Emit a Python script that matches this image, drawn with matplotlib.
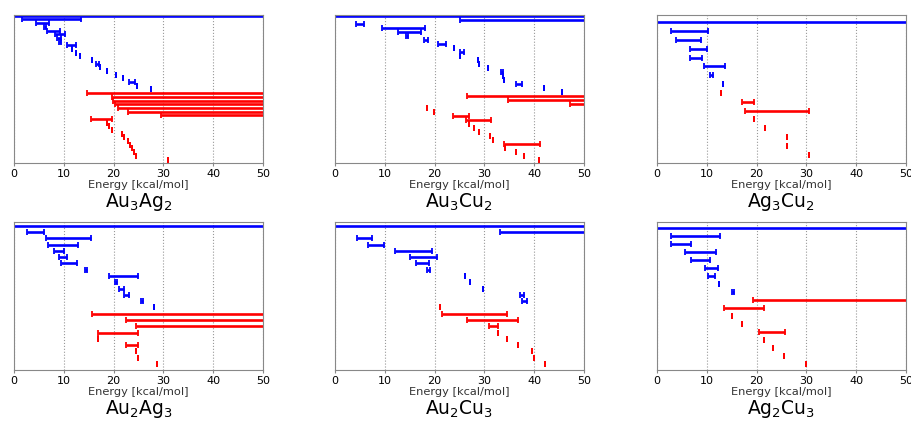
import matplotlib
matplotlib.use("Agg")
import matplotlib.pyplot as plt

# (low, high) energy windows in kcal/mol, listed top to bottom
au3ag2_blue = [(-2, 55), (1.7, 13.4), (4.5, 7.1), (6.0, 6.4), (6.7, 9.2), (8.2, 10.2),
               (8.7, 9.5), (9.0, 9.4), (10.6, 12.4), (11.6, 11.6), (12.4, 12.4),
               (13.3, 13.3), (15.6, 15.6), (16.5, 17.1), (17.3, 17.3), (18.6, 18.6),
               (20.5, 20.5), (21.8, 21.8), (23.0, 24.3), (24.6, 24.6), (27.6, 27.6)]
au3ag2_red = [(14.7, 55), (19.7, 55), (19.8, 55), (20.3, 55), (20.9, 55), (22.8, 55),
              (29.5, 55), (15.4, 19.7), (18.7, 18.7), (19.1, 19.1), (19.7, 19.7),
              (21.6, 21.6), (22.1, 22.1), (22.8, 22.8), (23.3, 23.3), (23.6, 23.6),
              (24.0, 24.0), (24.4, 24.4), (31.0, 31.0)]

au3cu2_blue = [(-2, 55), (25.2, 55), (4.2, 5.8), (9.4, 18.1), (12.6, 17.2), (14.2, 14.7),
               (17.9, 18.7), (20.7, 22.3), (23.9, 23.9), (25.1, 26.0), (25.1, 25.1),
               (28.7, 28.7), (28.9, 28.9), (30.7, 30.7), (33.3, 33.7), (33.8, 33.8),
               (33.9, 33.9), (36.3, 37.5), (42.0, 42.0), (45.6, 45.6)]
au3cu2_red = [(26.6, 55), (34.7, 55), (47.2, 55), (18.4, 18.4), (19.9, 19.9), (23.8, 27.0),
              (26.4, 31.3), (26.9, 26.9), (27.9, 27.9), (28.9, 28.9), (31.1, 31.1),
              (31.8, 31.8), (33.9, 41.2), (34.2, 34.2), (36.3, 36.3), (38.0, 38.0),
              (41.0, 41.0)]

ag3cu2_blue = [(-2, 55), (2.8, 10.2), (3.8, 8.8), (6.6, 10.0), (6.7, 9.0), (9.5, 13.6),
               (10.6, 11.2), (13.2, 13.2)]
ag3cu2_red = [(12.9, 12.9), (17.1, 19.4), (17.6, 30.6), (19.4, 19.4), (21.7, 21.7),
              (26.1, 26.1), (26.2, 26.2), (30.6, 30.6)]

au2ag3_blue = [(-2, 55), (2.7, 6.0), (6.4, 15.4), (6.8, 12.9), (8.0, 10.1), (9.1, 10.6),
               (9.5, 12.7), (14.3, 14.6), (19.1, 24.8), (20.3, 20.7), (21.1, 22.1),
               (22.1, 23.1), (25.4, 25.8), (28.2, 28.2)]
au2ag3_red = [(15.7, 55), (22.4, 55), (24.4, 55), (16.8, 24.9), (16.8, 16.8), (22.4, 24.9),
              (24.5, 24.5), (24.9, 24.9), (28.8, 28.8)]

au2cu3_blue = [(-2, 55), (33.1, 55), (4.5, 7.5), (6.6, 9.8), (12.1, 19.5), (15.0, 20.5),
               (16.3, 18.9), (18.4, 19.0), (26.2, 26.2), (27.2, 27.2), (29.7, 29.7),
               (37.1, 38.0), (37.6, 38.6)]
au2cu3_red = [(21.0, 21.0), (21.4, 34.6), (26.5, 36.7), (30.9, 32.7), (32.7, 32.7),
              (34.6, 34.6), (36.7, 36.7), (39.6, 39.6), (39.9, 39.9), (42.1, 42.1)]

ag2cu3_blue = [(-2, 55), (2.8, 12.6), (2.8, 6.9), (5.7, 11.9), (6.9, 10.6), (9.7, 12.2),
               (10.2, 11.6), (12.4, 12.4), (15.1, 15.5)]
ag2cu3_red = [(19.3, 55), (13.4, 21.4), (15.1, 15.1), (17.1, 17.1), (20.5, 25.8),
              (21.5, 21.5), (23.3, 23.3), (25.6, 25.6), (30.0, 30.0)]

titles = ["Au$_3$Ag$_2$", "Au$_3$Cu$_2$", "Ag$_3$Cu$_2$",
          "Au$_2$Ag$_3$", "Au$_2$Cu$_3$", "Ag$_2$Cu$_3$"]
blues = [au3ag2_blue, au3cu2_blue, ag3cu2_blue, au2ag3_blue, au2cu3_blue, ag2cu3_blue]
reds = [au3ag2_red, au3cu2_red, ag3cu2_red, au2ag3_red, au2cu3_red, ag2cu3_red]

# empty space above first row / below last row, in row units
top_pad = [0.3, 0.25, 0.87, 0.63, 0.63, 0.75]
bot_pad = [0.95, 0.85, 0.95, 0.95, 0.95, 0.8]

fig = plt.figure(figsize=(9.11, 4.22), dpi=100)
lefts = [0.0154, 0.3677, 0.7212]
bottoms = [0.6137, 0.1232]
w, h = 0.2733, 0.3515


def draw(ax, rows, y0, color):
    lo = [r[0] for r in rows]
    hi = [r[1] for r in rows]
    ys = list(range(y0, y0 + len(rows)))
    mid = [(a + b) / 2 for a, b in zip(lo, hi)]
    err = [(b - a) / 2 for a, b in zip(lo, hi)]
    ax.errorbar(mid, ys, xerr=err, fmt='none', ecolor=color, elinewidth=1.9,
                capsize=2.3, capthick=1.3)


for k in range(6):
    ax = fig.add_axes([lefts[k % 3], bottoms[k // 3], w, h])
    nb = len(blues[k])
    n = nb + len(reds[k])
    draw(ax, blues[k], 0, 'blue')
    draw(ax, reds[k], nb, 'red')
    ax.set_xlim(0, 50)
    ax.set_ylim(n - 1 + bot_pad[k], -top_pad[k])
    ax.set_yticks([])
    ax.set_xticks([0, 10, 20, 30, 40, 50])
    ax.tick_params(axis='x', labelsize=8, length=2, pad=2, color='#888888')
    ax.grid(axis='x', ls=':', color='#999999', lw=0.8)
    ax.set_axisbelow(True)
    for s in ax.spines.values():
        s.set_color('#888888')
    ax.set_xlabel("Energy [kcal/mol]", fontsize=8.2, color='#333333', labelpad=1)
    ax.text(0.5, -0.265, titles[k], transform=ax.transAxes, ha='center', va='center',
            fontsize=13.5)

fig.savefig("out.png", dpi=100)
